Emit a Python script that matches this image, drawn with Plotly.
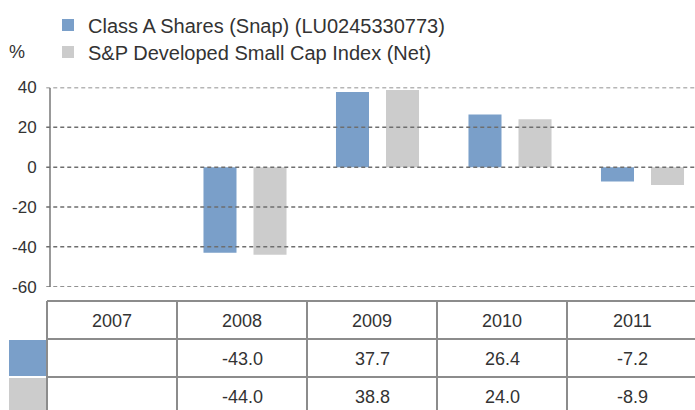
import plotly.graph_objects as go

years = ["2007", "2008", "2009", "2010", "2011"]
series_names = ["Class A Shares (Snap) (LU0245330773)", "S&P Developed Small Cap Index (Net)"]
class_a = [None, -43.0, 37.7, 26.4, -7.2]
index_net = [None, -44.0, 38.8, 24.0, -8.9]
y_ticks = [40, 20, 0, -20, -40, -60]
colors = ["#7a9fc9", "#cccccc"]

W, H = 695, 410
FONT = "Liberation Sans"
TXT = "#333333"

plot_left = 46.25
cat_px = 132.5
plot_w = W - plot_left
y_top_px, y_bot_px = 87.5, 286.7

def px(xp):
    return xp / W
def py(yp):
    return 1 - yp / H

fig = go.Figure()
legend_ids = ["legend", "legend2"]
for name, vals, col, lg in zip(series_names, [class_a, index_net], colors, legend_ids):
    fig.add_trace(go.Bar(x=years, y=vals, name=name, legend=lg,
                         marker=dict(color=col, line=dict(width=0)), hoverinfo="skip"))

# dashed gridlines above bars
for v in y_ticks:
    fig.add_shape(type="line", xref="paper", yref="y", x0=plot_left / W, x1=1, y0=v, y1=v,
                  line=dict(color="#6e6e6e", width=1.5, dash="4px,3px"), layer="above")

# table
tbl_left = 47
col_w = 130
row_h = 38
tbl_top = 301
line_style = dict(color="#8c8c8c", width=2)

for i in range(len(years) + 1):
    xp = tbl_left + i * col_w
    fig.add_shape(type="line", xref="paper", yref="paper", x0=px(xp), x1=px(xp),
                  y0=py(tbl_top), y1=py(H + 5), line=line_style)
for r in range(3):
    yp = tbl_top + r * row_h
    fig.add_shape(type="line", xref="paper", yref="paper", x0=px(tbl_left), x1=1,
                  y0=py(yp), y1=py(yp), line=line_style)
for r, col in enumerate(colors):
    y0 = tbl_top + (r + 1) * row_h + 1
    y1 = tbl_top + (r + 2) * row_h + (-1 if r == 0 else 5)
    fig.add_shape(type="rect", xref="paper", yref="paper", x0=px(9), x1=px(tbl_left - 1),
                  y0=py(y0), y1=py(y1), fillcolor=col, line=dict(width=0), layer="below")

rows = [years,
        ["" if v is None else f"{v:.1f}" for v in class_a],
        ["" if v is None else f"{v:.1f}" for v in index_net]]
for r, row in enumerate(rows):
    for i, t in enumerate(row):
        if not t:
            continue
        fig.add_annotation(xref="paper", yref="paper",
                           x=px(tbl_left + (i + 0.5) * col_w),
                           y=py(tbl_top + (r + 0.5) * row_h + 1),
                           text=t, showarrow=False, xanchor="center", yanchor="middle",
                           font=dict(family=FONT, size=18, color=TXT))

fig.add_annotation(xref="paper", yref="paper", x=px(7), y=py(52), text="%", showarrow=False,
                   xanchor="left", yanchor="middle", font=dict(family=FONT, size=18, color=TXT))

leg_common = dict(xanchor="left", yanchor="middle", xref="container", yref="container",
                  font=dict(family=FONT, size=20, color=TXT),
                  bgcolor="rgba(0,0,0,0)", itemclick=False, itemdoubleclick=False)

fig.update_layout(
    width=W, height=H,
    margin=dict(l=0, r=0, t=0, b=0, autoexpand=False),
    paper_bgcolor="white", plot_bgcolor="white",
    barmode="group", bargap=0.245, bargroupgap=0.34,
    showlegend=True,
    legend=dict(x=px(48), y=py(25), **leg_common),
    legend2=dict(x=px(48), y=py(52), **leg_common),
    xaxis=dict(domain=[plot_left / W, 1], range=[-0.5, -0.5 + plot_w / cat_px],
               type="category", showticklabels=False, showgrid=False, zeroline=False,
               showline=False, ticks="", automargin=False),
    yaxis=dict(domain=[1 - y_bot_px / H, 1 - y_top_px / H], range=[-60, 40],
               tickvals=y_ticks, ticktext=[str(v) for v in y_ticks],
               showgrid=False, zeroline=False, showline=True, linecolor="#999999", linewidth=2,
               anchor="free", position=50 / W, ticks="", ticklabelstandoff=9, automargin=False,
               tickfont=dict(family=FONT, size=17, color=TXT)),
    font=dict(family=FONT, color=TXT),
)

fig.write_html("out.html", post_script="document.body.style.margin='0';",
               config={"displayModeBar": False})
